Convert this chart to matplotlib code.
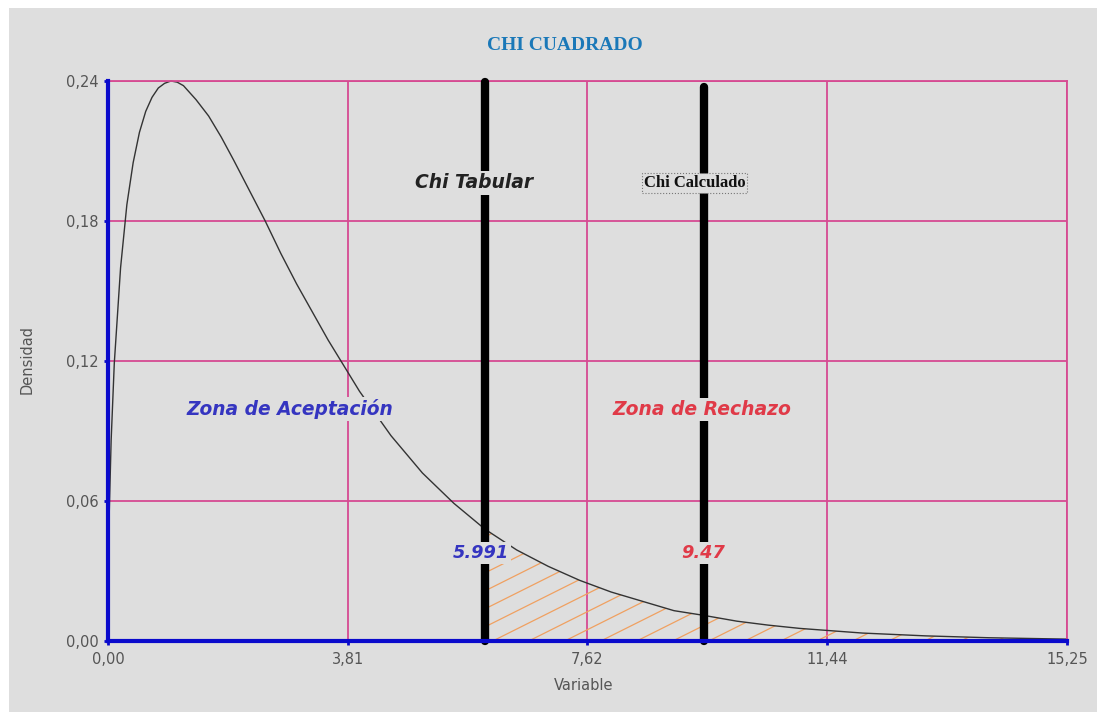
import numpy as np
import matplotlib.pyplot as plt
from matplotlib.patches import Rectangle
from matplotlib.collections import LineCollection

# densidad (chi cuadrado)
x_vals = [0.02, 0.05, 0.1, 0.2, 0.3, 0.4, 0.5, 0.6, 0.7, 0.8, 0.9, 1.0, 1.1, 1.2,
          1.4, 1.6, 1.8, 2.0, 2.25, 2.5, 2.75, 3.0, 3.5, 4.0, 4.5, 5.0, 5.5, 5.991,
          6.5, 7.0, 7.5, 8.0, 8.5, 9.0, 9.47, 10.0, 10.5, 11.0, 12.0, 13.0, 14.0, 15.25]
y_vals = [0.055, 0.086, 0.119, 0.160, 0.187, 0.205, 0.218, 0.227, 0.233, 0.237, 0.239, 0.240, 0.2395, 0.238,
          0.232, 0.225, 0.216, 0.206, 0.193, 0.180, 0.166, 0.153, 0.129, 0.107, 0.088, 0.072, 0.059, 0.048,
          0.039, 0.032, 0.026, 0.021, 0.017, 0.013, 0.011, 0.0085, 0.0068, 0.0054, 0.0034, 0.0022, 0.0014, 0.0008]

chi_tabular = 5.991
chi_calculado = 9.47
x_ticks = [0.0, 3.81, 7.62, 11.44, 15.25]
x_tick_labels = ["0,00", "3,81", "7,62", "11,44", "15,25"]
y_ticks = [0.0, 0.06, 0.12, 0.18, 0.24]
y_tick_labels = ["0,00", "0,06", "0,12", "0,18", "0,24"]

bg = '#dedede'
pink = '#d64a92'
blue = '#0a0acc'

fig = plt.figure(figsize=(11, 7.12), dpi=100, facecolor='white')
fig.patches.append(Rectangle((9/1100, 0), 1088/1100, 704/712, transform=fig.transFigure,
                             facecolor=bg, edgecolor='none', zorder=-1))
ax = fig.add_axes([108/1100, 1 - 641/712, 959/1100, 560/712])
ax.set_facecolor(bg)

x = np.array(x_vals)
y = np.array(y_vals)

ax.set_xlim(0, 15.25)
ax.set_ylim(0, 0.24)

# grid
ax.set_xticks(x_ticks)
ax.set_xticklabels(x_tick_labels)
ax.set_yticks(y_ticks)
ax.set_yticklabels(y_tick_labels)
ax.grid(True, color=pink, lw=1.3, zorder=0)
ax.set_axisbelow(True)
ax.tick_params(colors=blue, labelcolor='#555555', length=3, width=2, labelsize=10.5)
ax.tick_params(axis='x', pad=5)
ax.tick_params(axis='y', pad=4)
for s in ['left', 'bottom']:
    ax.spines[s].set_color(blue)
    ax.spines[s].set_linewidth(3)
    ax.spines[s].set_zorder(4)
for s in ['top', 'right']:
    ax.spines[s].set_color(pink)
    ax.spines[s].set_linewidth(1.3)

# curva
ax.plot(x, y, color='#333333', lw=1.0, zorder=2, clip_on=False)

# zona rayada
mask = x >= chi_tabular
poly = ax.fill_between(x[mask], y[mask], 0, facecolor='none', lw=0, zorder=1)
px_x = 15.25 / 959
px_y = 0.24 / 560
slope = 0.5 * px_y / px_x
gap = 36 * px_x
segs = []
for x0 in np.arange(chi_tabular - 0.06 / slope, 15.25, gap):
    segs.append([(x0, 0), (x0 + 0.06 / slope, 0.06)])
hatch = LineCollection(segs, colors='#f0a060', lw=0.9, zorder=1)
ax.add_collection(hatch)
hatch.set_clip_path(poly.get_paths()[0], ax.transData)

# lineas verticales
ax.plot([chi_tabular, chi_tabular], [0, 0.2395], color='black', lw=6,
        solid_capstyle='round', zorder=3, clip_on=False)
ax.plot([chi_calculado, chi_calculado], [0, 0.2375], color='black', lw=6,
        solid_capstyle='round', zorder=3, clip_on=False)

halo = dict(facecolor=bg, edgecolor='none', pad=1.5)
ax.text(5.82, 0.1963, 'Chi Tabular', fontsize=13.5, style='italic', fontweight='bold',
        color='#222222', ha='center', va='center', bbox=halo, zorder=5)
ax.text(9.33, 0.1963, 'Chi Calculado', fontsize=12, fontweight='bold', family='Liberation Serif',
        color='#111111', ha='center', va='center', zorder=5,
        bbox=dict(facecolor=bg, edgecolor='#777777', ls=':', lw=0.8, pad=1.2))
ax.text(2.894, 0.0994, 'Zona de Aceptación', fontsize=13.4, style='italic', fontweight='bold',
        color='#3535c0', ha='center', va='center', bbox=halo, zorder=5)
ax.text(9.446, 0.0994, 'Zona de Rechazo', fontsize=13.5, style='italic', fontweight='bold',
        color='#e03a48', ha='center', va='center', bbox=halo, zorder=5)
ax.text(chi_tabular - 0.06, 0.0377, '5.991', fontsize=12.8, style='italic', fontweight='bold',
        color='#3535c0', ha='center', va='center', bbox=halo, zorder=5)
ax.text(chi_calculado, 0.0377, '9.47', fontsize=12.8, style='italic', fontweight='bold',
        color='#e03a48', ha='center', va='center', bbox=halo, zorder=5)

fig.text(565/1100, 1 - 45/712, 'CHI CUADRADO', fontsize=14, fontweight='bold',
         family='Liberation Serif', color='#1a78b8', ha='center', va='center')
fig.text(584/1100, 1 - 686/712, 'Variable', fontsize=10.5,
         color='#555555', ha='center', va='center')
fig.text(27/1100, 1 - 360/712, 'Densidad', fontsize=10.5,
         color='#555555', ha='center', va='center', rotation=90)

fig.savefig('out.png', dpi=100, facecolor='white')
